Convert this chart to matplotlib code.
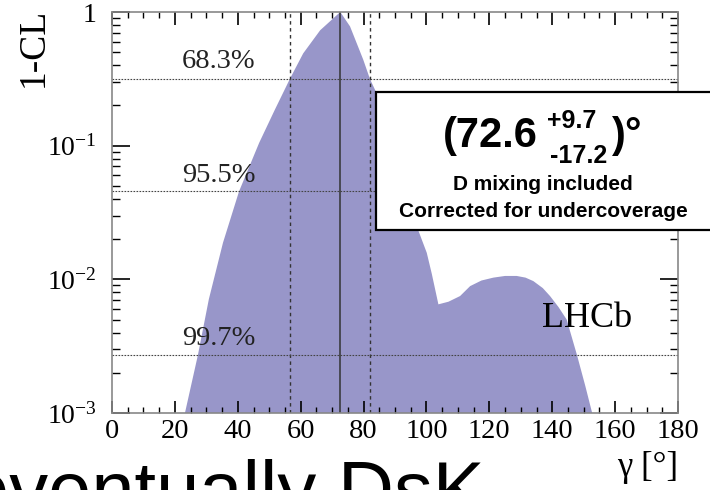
import numpy as np
import matplotlib
matplotlib.use("Agg")
import matplotlib.pyplot as plt
from matplotlib.patches import Rectangle
from matplotlib.ticker import MultipleLocator, LogLocator, NullFormatter

# 1-CL scan (gamma in degrees)
gamma = [22.0, 23.2, 27.3, 30.8, 35.3, 40.4, 46.8, 51.8, 56.6, 60.8, 66.2, 72.6,
         75.7, 79.9, 82.0, 83.7, 89.5, 93.5, 97.3, 100.1, 101.7, 103.8, 107.0,
         110.7, 113.9, 117.5, 121.3, 125.0, 128.7, 131.5, 134.0, 137.0, 139.3,
         142.0, 144.6, 147.9, 150.5, 152.7, 153.5]
one_minus_cl = [0.0007, 0.001, 0.0027, 0.0071, 0.0188, 0.0455, 0.105, 0.186, 0.317,
                0.49, 0.73, 1.0, 0.78, 0.44, 0.317, 0.26, 0.1, 0.045, 0.0236, 0.0158,
                0.011, 0.0065, 0.0068, 0.0075, 0.0089, 0.0098, 0.0103, 0.0106, 0.0106,
                0.0103, 0.0097, 0.0086, 0.0075, 0.0062, 0.005, 0.0027, 0.0016, 0.001,
                0.0007]

best = 72.6
interval = [56.6, 81.9]
cl_levels = [0.317, 0.0455, 0.0027]
cl_labels = ["68.3%", "95.5%", "99.7%"]
cl_label_y = [0.382, 0.0538, 0.00321]

W, H = 710, 490
def fx(px):
    return px / W
def fy(py):
    return 1 - py / H

plt.rcParams['mathtext.fontset'] = 'custom'
plt.rcParams['mathtext.rm'] = 'Liberation Serif'
plt.rcParams['mathtext.it'] = 'Liberation Serif:italic'
plt.rcParams['font.family'] = 'Liberation Serif'

fig = plt.figure(figsize=(7.1, 4.9), dpi=100)
ax = fig.add_axes([fx(112), fy(413), fx(678) - fx(112), fy(12) - fy(413)])

ax.fill_between(gamma, one_minus_cl, 1e-4, color='#9896c9', lw=0, zorder=1)

for v in interval:
    ax.axvline(v, color='#333333', lw=1.0, ls=(0, (2.5, 2.5)), zorder=2)
ax.axvline(best, color='#333333', lw=1.1, zorder=2)
for lev, lab, ly in zip(cl_levels, cl_labels, cl_label_y):
    ax.axhline(lev, color='#444444', lw=0.8, ls=(0, (1.5, 1.2)), zorder=2)
    ax.text(22.3, ly, lab, fontsize=20.5, va='baseline', ha='left', color='#222222')

ax.text(136.8, 0.00438, "LHCb", fontsize=26, va='baseline', ha='left')

ax.set_yscale('log')
ax.set_xlim(0, 180)
ax.set_ylim(1e-3, 1)
ax.set_xticks(np.arange(0, 181, 20))
ax.xaxis.set_minor_locator(MultipleLocator(5))
ax.set_yticks([1e-3, 1e-2, 1e-1, 1], labels=['$10^{-3}$', '$10^{-2}$', '$10^{-1}$', '1'])
ax.yaxis.set_minor_locator(LogLocator(base=10, subs=np.arange(2, 10)))
ax.yaxis.set_minor_formatter(NullFormatter())
ax.tick_params(axis='x', which='both', direction='in', top=True, labelsize=20.5, pad=4)
ax.tick_params(axis='y', which='both', direction='in', right=True, labelsize=20, pad=11)
ax.tick_params(axis='x', which='major', length=9, width=1.2)
ax.tick_params(axis='x', which='minor', length=4.5, width=1)
ax.tick_params(axis='y', which='major', length=13, width=1.2)
ax.tick_params(axis='y', which='minor', length=6, width=1)
for s in ax.spines.values():
    s.set_color('#888888')
    s.set_linewidth(1.2)

fig.text(fx(34), fy(8), "1-CL", rotation=90, fontsize=27, ha='center', va='top')
fig.text(fx(678), fy(451), "γ [°]", fontsize=25, ha='right', va='top')

# result box
box = Rectangle((fx(376), fy(230)), fx(740) - fx(376), fy(92) - fy(230),
                transform=fig.transFigure, facecolor='white', edgecolor='black',
                lw=1.6, zorder=5, clip_on=False)
fig.add_artist(box)
sans = 'Liberation Sans'
fig.text(fx(538), fy(147), "(72.6", fontsize=30, fontweight='bold', family=sans,
         ha='right', va='baseline', zorder=6)
fig.text(fx(547), fy(128), "+9.7", fontsize=18, fontweight='bold', family=sans,
         ha='left', va='baseline', zorder=6)
fig.text(fx(550), fy(163), "-17.2", fontsize=18, fontweight='bold', family=sans,
         ha='left', va='baseline', zorder=6)
fig.text(fx(612), fy(147), ")°", fontsize=30, fontweight='bold', family=sans,
         ha='left', va='baseline', zorder=6)
fig.text(fx(543), fy(190), "D mixing included", fontsize=15, fontweight='bold',
         family=sans, ha='center', va='baseline', zorder=6)
fig.text(fx(543), fy(217), "Corrected for undercoverage", fontsize=15, fontweight='bold',
         family=sans, ha='center', va='baseline', zorder=6)

# slide text cut off at the bottom
fig.text(fx(-34), fy(516), "eventually DsK", fontsize=56, family=sans,
         ha='left', va='baseline')

fig.savefig("out.png", dpi=100)
